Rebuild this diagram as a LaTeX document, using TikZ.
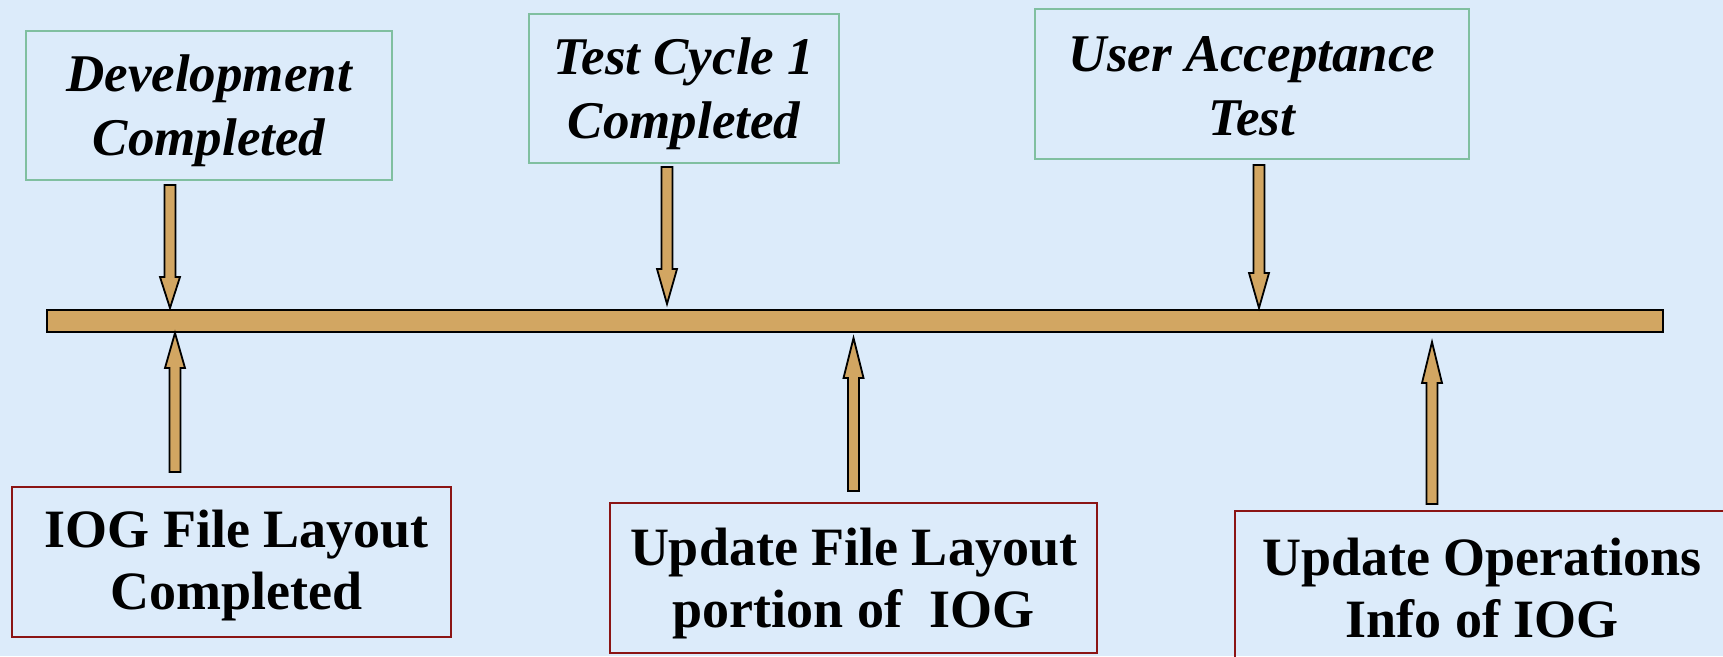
\documentclass[tikz,border=0pt]{standalone}
\usepackage{fontspec}
\setmainfont{Liberation Serif}
\usetikzlibrary{calc}
\definecolor{bgblue}{HTML}{DCEBFA}
\definecolor{tan}{HTML}{D2A662}
\definecolor{topedge}{HTML}{80BFA0}
\definecolor{botedge}{HTML}{8B1414}
\tikzset{
  topbox/.style={draw=topedge, line width=1.5pt, inner sep=0pt},
  botbox/.style={draw=botedge, line width=1.5pt, inner sep=0pt},
  toptext/.style={inner sep=0pt, align=center, font=\fontsize{53}{64}\selectfont\bfseries\itshape},
  bottext/.style={inner sep=0pt, align=center, font=\fontsize{54}{62}\selectfont\bfseries},
  tanshape/.style={fill=tan, draw=black, line width=1.8pt, line join=miter},
}
\newcommand\blockarrow[4]{%
  \draw[tanshape] (#1-5.5,#2) -- (#1+5.5,#2) -- (#1+5.5,#3) -- (#1+10,#3) -- (#1,#4) -- (#1-10,#3) -- (#1-5.5,#3) -- cycle;}
\begin{document}
\begin{tikzpicture}[x=1pt,y=-1pt]
\useasboundingbox (0,0) rectangle (1723,656);
\fill[bgblue] (0,0) rectangle (1723,656);
\clip (0,0) rectangle (1723,656);
% top boxes
\node[topbox, minimum width=366pt, minimum height=149pt] (d1) at (209,105.5) {};
\node[toptext] at ($(d1.center)+(0,5)$) {Development\\Completed};
\node[topbox, minimum width=310pt, minimum height=149pt] (d2) at (684,88.5) {};
\node[toptext] at ($(d2.center)+(0,5)$) {Test Cycle 1\\Completed};
\node[topbox, minimum width=434pt, minimum height=150pt] (d3) at (1252,84) {};
\node[toptext] at ($(d3.center)+(0,2)$) {User Acceptance\\Test};
% bottom boxes
\node[botbox, minimum width=439pt, minimum height=150pt] (u1) at (231.5,562) {};
\node[bottext] at ($(u1.center)+(5,4)$) {IOG File Layout\\Completed};
\node[botbox, minimum width=487pt, minimum height=150pt] (u2) at (853.5,578) {};
\node[bottext] at ($(u2.center)+(0,6)$) {Update File Layout\\portion of\ \ IOG};
\node[botbox, minimum width=494pt, minimum height=160pt] (u3) at (1482,591) {};
\node[bottext] at ($(u3.center)+(0,-3)$) {Update Operations\\Info of IOG};
% timeline bar
\node[tanshape, minimum width=1616pt, minimum height=22pt, inner sep=0pt] (bar) at (855,321) {};
% arrows
\blockarrow{170}{185}{277}{308}
\blockarrow{667}{167}{269}{304}
\blockarrow{1259}{165}{273}{308}
\blockarrow{175}{472}{368}{333}
\blockarrow{853.5}{491}{378}{338}
\blockarrow{1432}{504}{383}{342}
\end{tikzpicture}
\end{document}
